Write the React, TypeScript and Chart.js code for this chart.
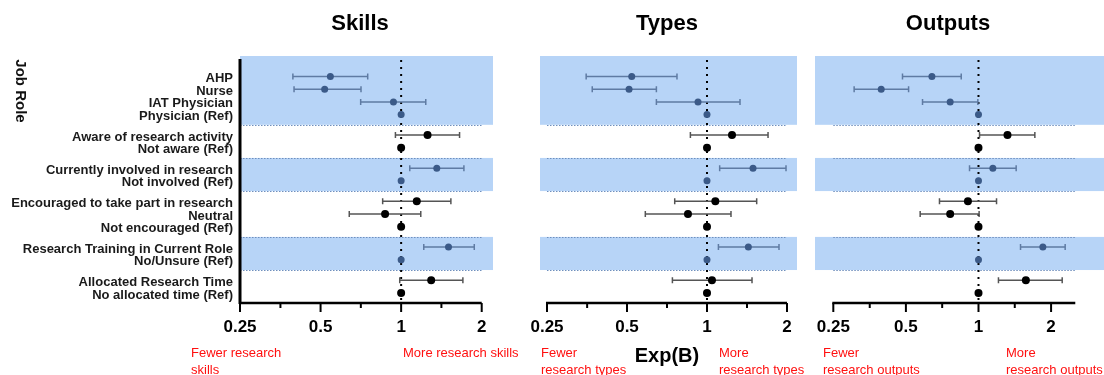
import React, { useEffect, useRef } from "react";
import { Chart, registerables } from "chart.js";

Chart.register(...registerables);

// ---------------- DATA ----------------
const rowLabels = [
  "AHP",
  "Nurse",
  "IAT Physician",
  "Physician (Ref)",
  "Aware of research activity",
  "Not aware (Ref)",
  "Currently involved in research",
  "Not involved (Ref)",
  "Encouraged to take part in research",
  "Neutral",
  "Not encouraged (Ref)",
  "Research Training in Current Role",
  "No/Unsure (Ref)",
  "Allocated Research Time",
  "No allocated time (Ref)",
];
const rowGroups = [0, 0, 0, 0, 1, 1, 2, 2, 3, 3, 3, 4, 4, 5, 5];
const shadedGroups = [0, 2, 4];

const majorTicks = [0.25, 0.5, 1, 2];
const minorTicks = [0.354, 0.707, 1.414];
const referenceValue = 1;

const skillsOR = [0.544, 0.518, 0.936, 1, 1.255, 1, 1.359, 1, 1.144, 0.871, 1, 1.503, 1, 1.295, 1];
const skillsLow = [0.394, 0.398, 0.706, 1, 0.952, 1, 1.077, 1, 0.853, 0.64, 1, 1.215, 1, 0.988, 1];
const skillsHigh = [0.75, 0.708, 1.236, 1, 1.653, 1, 1.716, 1, 1.534, 1.184, 1, 1.876, 1, 1.701, 1];

const typesOR = [0.521, 0.509, 0.925, 1, 1.242, 1, 1.49, 1, 1.075, 0.848, 1, 1.431, 1, 1.044, 1];
const typesLow = [0.351, 0.37, 0.645, 1, 0.866, 1, 1.116, 1, 0.756, 0.586, 1, 1.104, 1, 0.741, 1];
const typesHigh = [0.771, 0.645, 1.331, 1, 1.697, 1, 1.983, 1, 1.538, 1.231, 1, 1.866, 1, 1.477, 1];

const outputsOR = [0.641, 0.395, 0.763, 1, 1.319, 1, 1.147, 1, 0.904, 0.763, 1, 1.849, 1, 1.572, 1];
const outputsLow = [0.484, 0.305, 0.586, 1, 1.01, 1, 0.918, 1, 0.689, 0.573, 1, 1.494, 1, 1.21, 1];
const outputsHigh = [0.848, 0.513, 0.994, 1, 1.713, 1, 1.433, 1, 1.188, 1.006, 1, 2.288, 1, 2.224, 1];

// ---------------- LAYOUT / STYLE ----------------
const FONT = "'Liberation Sans', Arial, Helvetica, sans-serif";
const H = 375;
const GROUP_GAP = 0.606;
const rowPos = rowLabels.map((_, i) => i + rowGroups[i] * GROUP_GAP);
const Y_MIN = -1.61;
const Y_MAX = 17.82;

const BAND_COLOR = "rgb(183, 212, 247)";
const SEP_COLOR = "#6f8fbd";
const BLUE_PT = "#3b5a88";
const BLUE_BAR = "#5f7ba3";
const BLACK_PT = "#000000";
const BLACK_BAR = "#555555";
const RED = "#ff1010";

type Note = { lines: string[]; x: number };
type PanelSpec = {
  key: string;
  title: string;
  titleX: number;
  or: number[];
  low: number[];
  high: number[];
  canvasLeft: number;
  canvasWidth: number;
  padLeft: number;
  padRight: number;
  showY: boolean;
  xMin: number;
  xMax: number;
  axisEnd: number;
  notes: Note[];
  extra?: boolean;
};

const panels: PanelSpec[] = [
  {
    key: "skills",
    title: "Skills",
    titleX: 360,
    or: skillsOR,
    low: skillsLow,
    high: skillsHigh,
    canvasLeft: 0,
    canvasWidth: 540,
    padLeft: 0,
    padRight: 47,
    showY: true,
    xMin: 0.25,
    xMax: 2.204,
    axisEnd: 2,
    notes: [
      { lines: ["Fewer research", "skills"], x: 191 },
      { lines: ["More research skills"], x: 403 },
    ],
  },
  {
    key: "types",
    title: "Types",
    titleX: 667,
    or: typesOR,
    low: typesLow,
    high: typesHigh,
    canvasLeft: 520,
    canvasWidth: 292,
    padLeft: 20,
    padRight: 15,
    showY: false,
    xMin: 0.2353,
    xMax: 2.181,
    axisEnd: 2,
    notes: [
      { lines: ["Fewer", "research types"], x: 541 },
      { lines: ["More", "research types"], x: 719 },
    ],
    extra: true,
  },
  {
    key: "outputs",
    title: "Outputs",
    titleX: 948,
    or: outputsOR,
    low: outputsLow,
    high: outputsHigh,
    canvasLeft: 800,
    canvasWidth: 304,
    padLeft: 15,
    padRight: 0,
    showY: false,
    xMin: 0.2099,
    xMax: 3.315,
    axisEnd: 2.52,
    notes: [
      { lines: ["Fewer", "research outputs"], x: 823 },
      { lines: ["More", "research outputs"], x: 1006 },
    ],
  },
];

const isShaded = (i: number) => shadedGroups.includes(rowGroups[i]);

function groupBounds(ys: any, area: any) {
  const groups: number[] = [];
  rowGroups.forEach((g) => {
    if (!groups.includes(g)) groups.push(g);
  });
  return groups.map((g) => {
    const first = rowGroups.indexOf(g);
    const last = rowGroups.lastIndexOf(g);
    const top =
      first > 0
        ? (ys.getPixelForValue(rowPos[first - 1]) + ys.getPixelForValue(rowPos[first])) / 2
        : area.top;
    const bottom =
      last < rowGroups.length - 1
        ? (ys.getPixelForValue(rowPos[last]) + ys.getPixelForValue(rowPos[last + 1])) / 2
        : area.bottom;
    return { group: g, top, bottom, last };
  });
}

function makePlugin(spec: PanelSpec) {
  const px = (v: number) => v - spec.canvasLeft;
  return {
    id: "decor_" + spec.key,
    beforeDraw(chart: any) {
      const { ctx, chartArea } = chart;
      const ys = chart.scales.y;
      ctx.save();
      ctx.fillStyle = BAND_COLOR;
      groupBounds(ys, chartArea).forEach((b) => {
        if (shadedGroups.includes(b.group)) {
          ctx.fillRect(chartArea.left, b.top, chartArea.right - chartArea.left, b.bottom - b.top);
        }
      });
      ctx.restore();
    },
    beforeDatasetsDraw(chart: any) {
      const { ctx, chartArea } = chart;
      const xs = chart.scales.x;
      const ys = chart.scales.y;
      const x0 = xs.getPixelForValue(majorTicks[0]);
      const x1 = xs.getPixelForValue(spec.axisEnd);
      ctx.save();
      // separators
      ctx.strokeStyle = SEP_COLOR;
      ctx.lineWidth = 1;
      ctx.setLineDash([1.5, 1.5]);
      groupBounds(ys, chartArea).forEach((b) => {
        if (b.last < rowGroups.length - 1) {
          ctx.beginPath();
          ctx.moveTo(x0, Math.round(b.bottom) + 0.5);
          ctx.lineTo(x1, Math.round(b.bottom) + 0.5);
          ctx.stroke();
        }
      });
      // reference line
      const xr = xs.getPixelForValue(referenceValue);
      ctx.strokeStyle = "#000";
      ctx.lineWidth = 2;
      ctx.setLineDash([2, 5]);
      ctx.beginPath();
      ctx.moveTo(xr, chartArea.top + 4);
      ctx.lineTo(xr, chartArea.bottom);
      ctx.stroke();
      ctx.setLineDash([]);
      // error bars
      rowPos.forEach((p, i) => {
        const y = ys.getPixelForValue(p);
        const a = xs.getPixelForValue(spec.low[i]);
        const b = xs.getPixelForValue(spec.high[i]);
        ctx.strokeStyle = isShaded(i) ? BLUE_BAR : BLACK_BAR;
        ctx.lineWidth = 1.5;
        ctx.beginPath();
        ctx.moveTo(a, y);
        ctx.lineTo(b, y);
        ctx.moveTo(a, y - 3);
        ctx.lineTo(a, y + 3);
        ctx.moveTo(b, y - 3);
        ctx.lineTo(b, y + 3);
        ctx.stroke();
      });
      ctx.restore();
    },
    afterDatasetsDraw(chart: any) {
      const { ctx, chartArea } = chart;
      const xs = chart.scales.x;
      const x0 = xs.getPixelForValue(majorTicks[0]);
      const x1 = xs.getPixelForValue(spec.axisEnd);
      const yb = chartArea.bottom;
      ctx.save();
      ctx.strokeStyle = "#000";
      ctx.lineWidth = 2.5;
      ctx.beginPath();
      ctx.moveTo(x0 - 1, yb);
      ctx.lineTo(x1, yb);
      ctx.stroke();
      ctx.lineWidth = 2;
      majorTicks.forEach((v) => {
        const x = xs.getPixelForValue(v);
        ctx.beginPath();
        ctx.moveTo(x, yb);
        ctx.lineTo(x, yb + 9);
        ctx.stroke();
      });
      minorTicks.forEach((v) => {
        const x = xs.getPixelForValue(v);
        ctx.beginPath();
        ctx.moveTo(x, yb);
        ctx.lineTo(x, yb + 5);
        ctx.stroke();
      });
      if (spec.showY) {
        ctx.lineWidth = 3;
        ctx.beginPath();
        ctx.moveTo(chartArea.left, chartArea.top + 3);
        ctx.lineTo(chartArea.left, yb + 1);
        ctx.stroke();
      }
      ctx.restore();
    },
    afterDraw(chart: any) {
      const { ctx } = chart;
      ctx.save();
      ctx.fillStyle = "#000";
      ctx.font = `bold 22px ${FONT}`;
      ctx.textAlign = "center";
      ctx.textBaseline = "middle";
      ctx.fillText(spec.title, px(spec.titleX), 24);

      ctx.font = `13px ${FONT}`;
      ctx.fillStyle = RED;
      ctx.textAlign = "left";
      spec.notes.forEach((n) => {
        n.lines.forEach((line, k) => {
          ctx.fillText(line, px(n.x), 353 + k * 17);
        });
      });

      if (spec.extra) {
        ctx.fillStyle = "#000";
        ctx.font = `bold 20px ${FONT}`;
        ctx.textAlign = "center";
        ctx.fillText("Exp(B)", px(667), 356);
      }
      if (spec.showY) {
        ctx.translate(px(20), 91);
        ctx.rotate(Math.PI / 2);
        ctx.fillStyle = "#111";
        ctx.font = `bold 15px ${FONT}`;
        ctx.textAlign = "center";
        ctx.fillText("Job Role", 0, 0);
      }
      ctx.restore();
    },
  };
}

function buildConfig(spec: PanelSpec): any {
  return {
    type: "scatter",
    data: {
      datasets: [
        {
          data: rowPos.map((y, i) => ({ x: spec.or[i], y })),
          pointRadius: rowPos.map((_, i) => (isShaded(i) ? 3.5 : 4)),
          pointBackgroundColor: rowPos.map((_, i) => (isShaded(i) ? BLUE_PT : BLACK_PT)),
          pointBorderWidth: 0,
          showLine: false,
          clip: false,
        },
      ],
    },
    options: {
      responsive: false,
      animation: false,
      devicePixelRatio: 1,
      events: [],
      layout: {
        autoPadding: false,
        padding: { top: 56, bottom: 0, left: spec.padLeft, right: spec.padRight },
      },
      plugins: { legend: { display: false }, tooltip: { enabled: false }, title: { display: false } },
      scales: {
        x: {
          type: "logarithmic",
          min: spec.xMin,
          max: spec.xMax,
          grid: {
            display: true,
            drawOnChartArea: false,
            drawTicks: true,
            tickLength: 14,
            color: "rgba(0,0,0,0)",
          },
          border: { display: false },
          afterBuildTicks: (s: any) => {
            s.ticks = majorTicks.map((v) => ({ value: v }));
          },
          afterFit: (s: any) => {
            s.height = 72;
          },
          ticks: {
            autoSkip: false,
            maxRotation: 0,
            padding: 0,
            color: "#000",
            font: { family: FONT, size: 17, weight: "bold" },
            callback: (v: any) => String(v),
          },
        },
        y: {
          type: "linear",
          display: spec.showY,
          reverse: true,
          min: Y_MIN,
          max: Y_MAX,
          grid: { display: false, drawTicks: false },
          border: { display: false },
          afterBuildTicks: (s: any) => {
            s.ticks = rowPos.map((v) => ({ value: v }));
          },
          afterFit: (s: any) => {
            s.width = spec.showY ? 240 : 0;
          },
          ticks: {
            autoSkip: false,
            padding: 7,
            labelOffset: 2,
            color: "#1a1a1a",
            font: { family: FONT, size: 13, weight: "bold" },
            callback: (_v: any, i: number) => rowLabels[i],
          },
        },
      },
    },
    plugins: [makePlugin(spec)],
  };
}

function Panel({ spec }: { spec: PanelSpec }) {
  const ref = useRef<HTMLCanvasElement>(null);
  useEffect(() => {
    const chart = new Chart(ref.current as HTMLCanvasElement, buildConfig(spec));
    return () => chart.destroy();
  }, [spec]);
  return (
    <canvas
      ref={ref}
      width={spec.canvasWidth}
      height={H}
      style={{ position: "absolute", left: spec.canvasLeft, top: 0, width: spec.canvasWidth, height: H }}
    />
  );
}

export default function App() {
  return (
    <div
      style={{
        position: "absolute",
        left: 0,
        top: 0,
        width: 1104,
        height: H,
        background: "#fff",
        overflow: "hidden",
      }}
    >
      {panels.map((p) => (
        <Panel key={p.key} spec={p} />
      ))}
    </div>
  );
}
